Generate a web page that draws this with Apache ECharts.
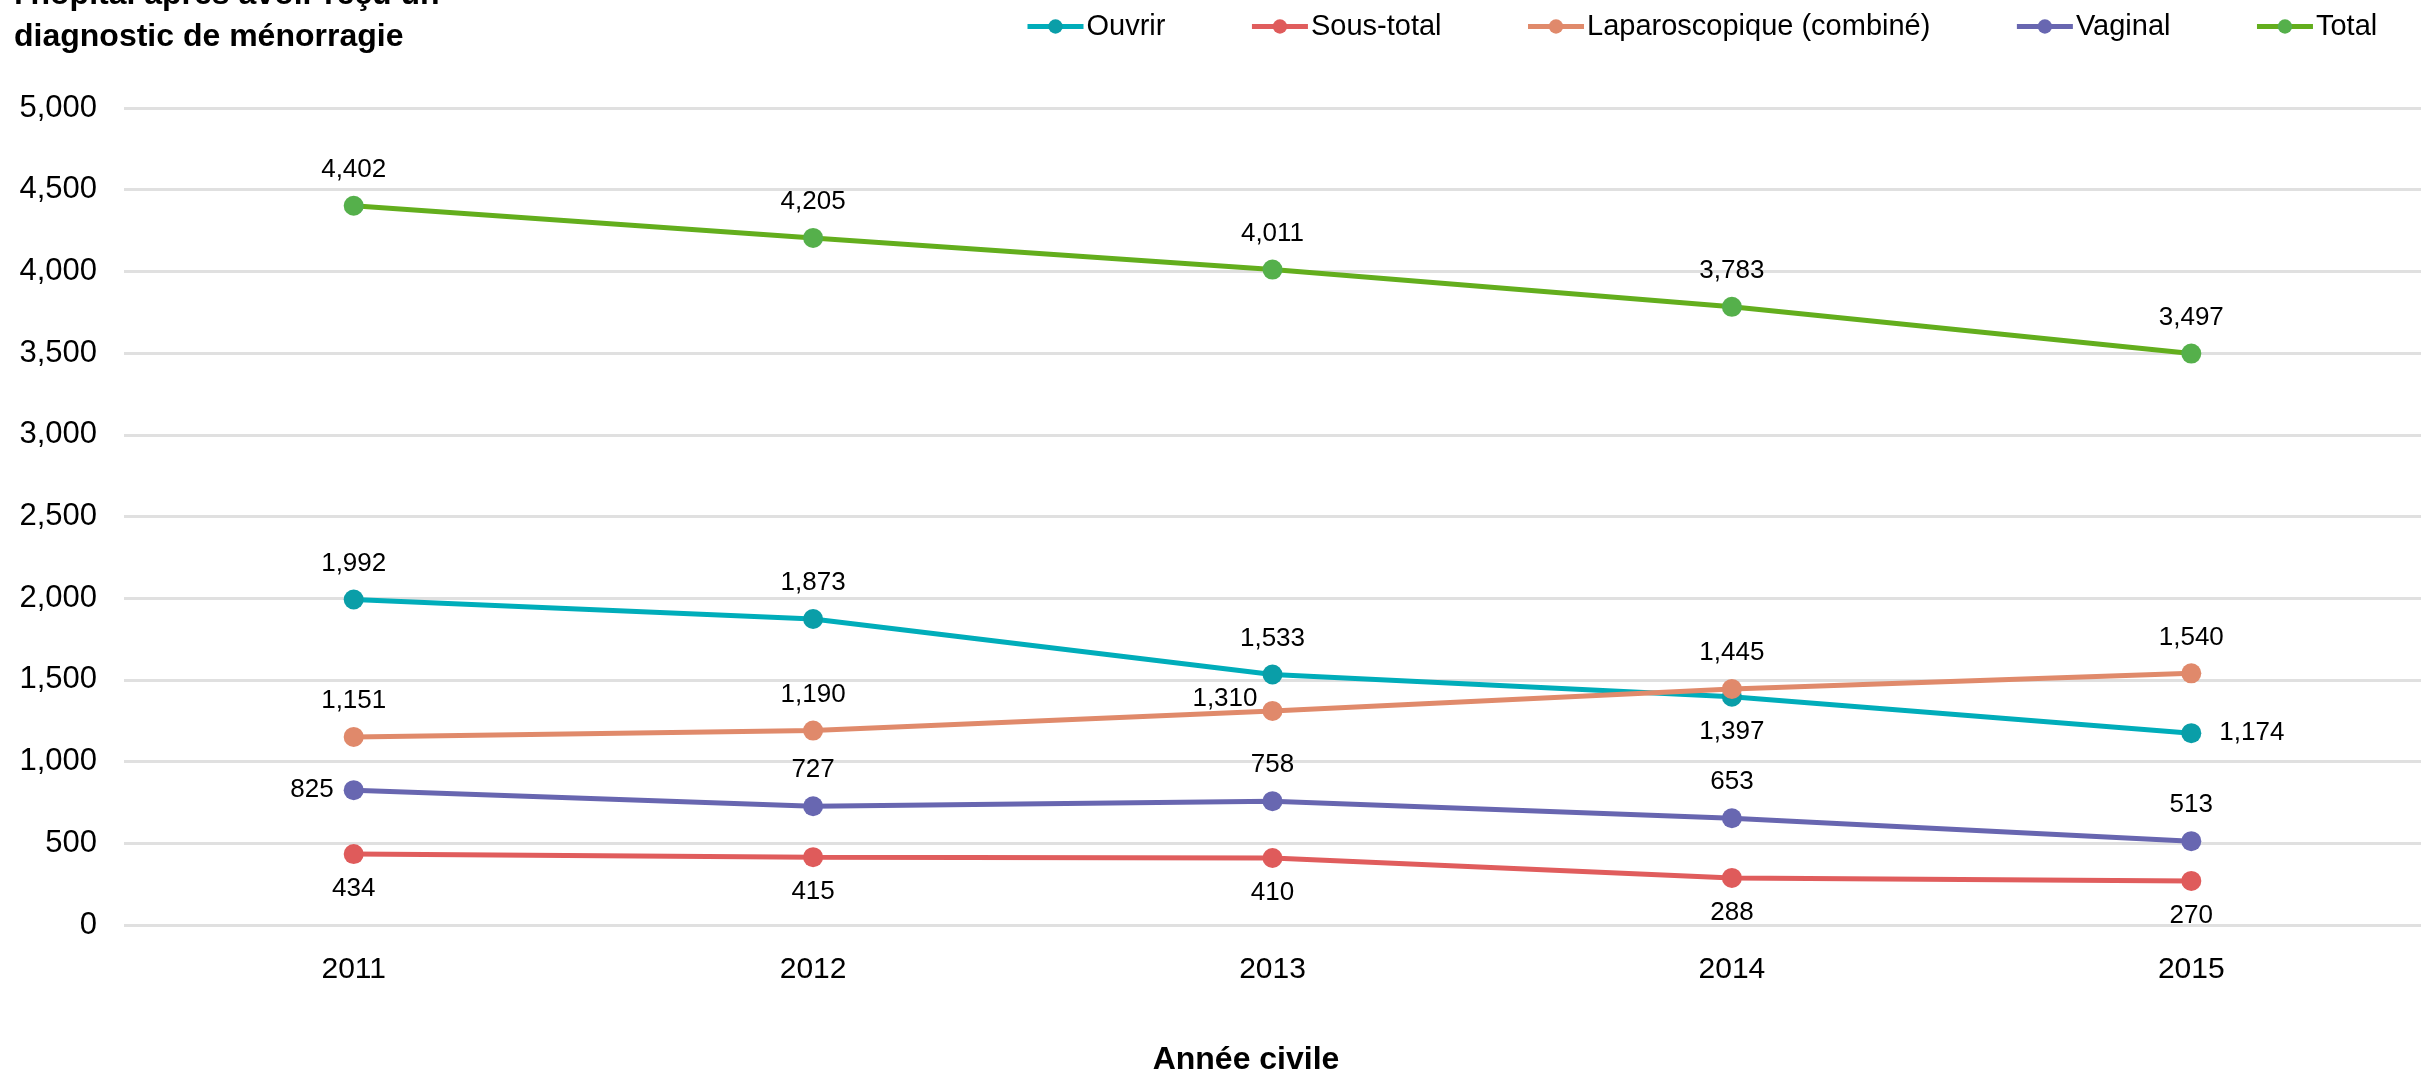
<!DOCTYPE html>
<html>
<head>
<meta charset="utf-8">
<script src="https://cdn.jsdelivr.net/npm/echarts@6/dist/echarts.min.js"></script>
<style>
html,body{margin:0;padding:0;background:#fff;}
#chart{width:2423px;height:1072px;}
</style>
</head>
<body>
<div id="chart"></div>
<script>
const years = ['2011', '2012', '2013', '2014', '2015'];
const seriesNames = ['Ouvrir', 'Sous-total', 'Laparoscopique (combiné)', 'Vaginal', 'Total'];
const ouvrir = [1992, 1873, 1533, 1397, 1174];
const sousTotal = [434, 415, 410, 288, 270];
const laparoscopique = [1151, 1190, 1310, 1445, 1540];
const vaginal = [825, 727, 758, 653, 513];
const total = [4402, 4205, 4011, 3783, 3497];
const yTicks = [0, 500, 1000, 1500, 2000, 2500, 3000, 3500, 4000, 4500, 5000];
const titleText = "l'hôpital après avoir reçu un\ndiagnostic de ménorragie";
const xName = 'Année civile';

const FONT = '"Liberation Sans", Arial, Helvetica, sans-serif';
const lineColors = ['#00adba', '#e05d5d', '#e08a6b', '#6866b0', '#63ae1d'];
const pointColors = ['#0a9ea8', '#df5b5b', '#e0896b', '#6867b1', '#55b04b'];

const fmt = v => v.toLocaleString('en-US');

function labelCfg(pos) {
  const base = { show: true, fontSize: 26, color: '#000', fontFamily: FONT, formatter: p => fmt(p.value) };
  if (pos === 'top') return Object.assign(base, { position: 'top', distance: 13 });
  if (pos === 'bottom') return Object.assign(base, { position: 'bottom', distance: 12 });
  if (pos === 'right') return Object.assign(base, { position: 'right', distance: 18 });
  if (pos === 'left') return Object.assign(base, { position: 'left', distance: 10 });
  if (pos === 'leftup') return Object.assign(base, { position: 'left', distance: 5, offset: [0, -12] });
  return base;
}

function makeSeries(idx, values, positions) {
  return {
    name: seriesNames[idx],
    type: 'line',
    data: values.map((v, i) => ({ value: v, label: labelCfg(positions[i]) })),
    symbol: 'circle',
    symbolSize: 20,
    lineStyle: { width: 5, color: lineColors[idx] },
    itemStyle: { color: pointColors[idx] },
    emphasis: { disabled: true },
    animation: false,
    z: 2 + idx
  };
}

const chart = echarts.init(document.getElementById('chart'), null, { renderer: 'canvas' });
chart.setOption({
  backgroundColor: '#fff',
  animation: false,
  textStyle: { fontFamily: FONT },
  title: [
    {
      text: titleText,
      left: 14, top: -26, padding: 0,
      textStyle: { fontSize: 32, fontWeight: 'bold', color: '#000', lineHeight: 42, fontFamily: FONT }
    },
    {
      text: xName,
      left: 1246, top: 1044, padding: 0,
      textAlign: 'center',
      textStyle: { fontSize: 32, fontWeight: 'bold', color: '#000', fontFamily: FONT }
    }
  ],
  legend: {
    data: seriesNames,
    left: 1020, top: 7,
    itemGap: 84,
    itemWidth: 56,
    itemHeight: 18,
    lineStyle: { width: 5 },
    textStyle: { fontSize: 29, color: '#000', fontFamily: FONT, padding: [0, 0, 0, -2] }
  },
  grid: { left: 124, right: 2, top: 108, bottom: 147, containLabel: false },
  xAxis: {
    type: 'category',
    data: years,
    boundaryGap: true,
    axisLine: { show: false },
    axisTick: { show: false },
    axisLabel: { fontSize: 30, color: '#000', margin: 30, fontFamily: FONT },
    splitLine: { show: false }
  },
  yAxis: {
    type: 'value',
    min: yTicks[0],
    max: yTicks[yTicks.length - 1],
    interval: 500,
    axisLine: { show: false },
    axisTick: { show: false },
    axisLabel: { fontSize: 31, color: '#000', margin: 27, fontFamily: FONT, padding: [6, 0, 0, 0], formatter: v => fmt(v) },
    splitLine: { lineStyle: { color: '#e0e0e0', width: 3 } }
  },
  series: [
    makeSeries(0, ouvrir, ['top', 'top', 'top', 'bottom', 'right']),
    makeSeries(1, sousTotal, ['bottom', 'bottom', 'bottom', 'bottom', 'bottom']),
    makeSeries(2, laparoscopique, ['top', 'top', 'leftup', 'top', 'top']),
    makeSeries(3, vaginal, ['left', 'top', 'top', 'top', 'top']),
    makeSeries(4, total, ['top', 'top', 'top', 'top', 'top'])
  ]
});
</script>
</body>
</html>
